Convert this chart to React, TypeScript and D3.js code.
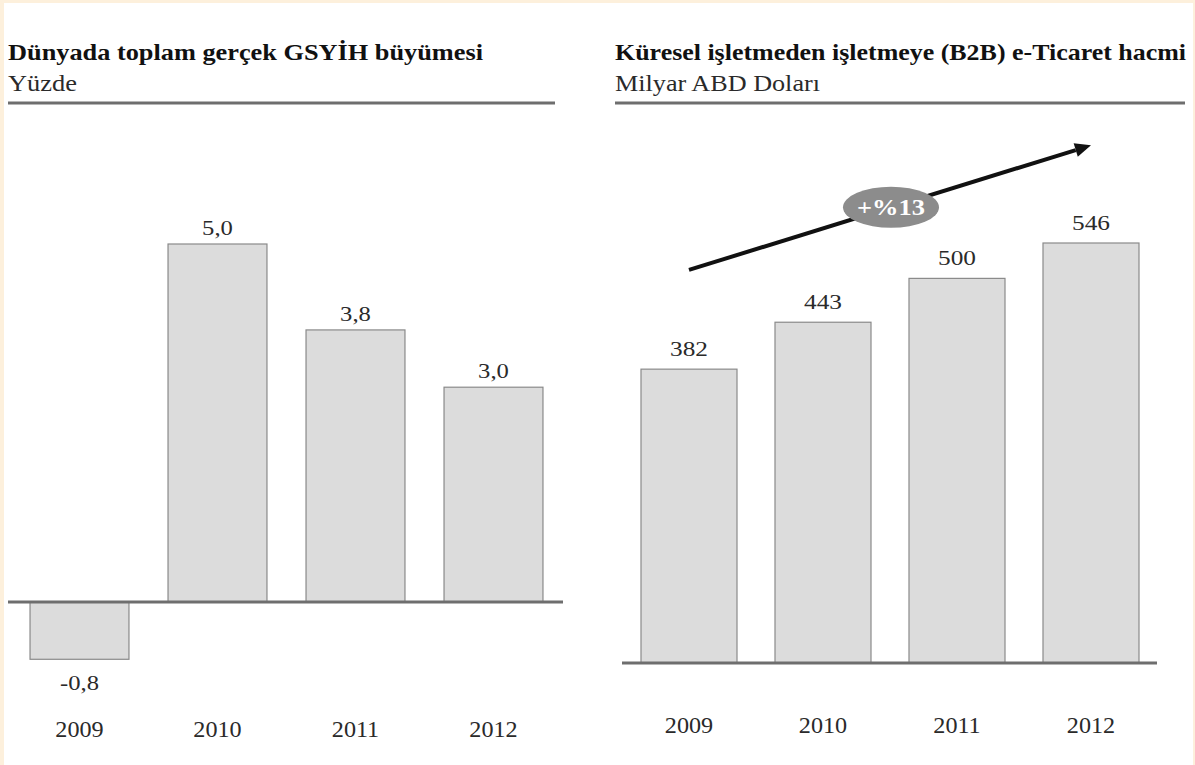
import React from "react";
import * as d3 from "d3";

const years = ["2009", "2010", "2011", "2012"];
const gdpGrowth = [-0.8, 5.0, 3.8, 3.0];
const gdpLabels = ["-0,8", "5,0", "3,8", "3,0"];
const b2bVolume = [382, 443, 500, 546];
const b2bLabels = ["382", "443", "500", "546"];
const cagrLabel = "+%13";
const leftTitle = "Dünyada toplam gerçek GSYİH büyümesi";
const leftSubtitle = "Yüzde";
const rightTitle = "Küresel işletmeden işletmeye (B2B) e-Ticaret hacmi";
const rightSubtitle = "Milyar ABD Doları";

const W = 1195;
const H = 765;
const FONT = "'Liberation Serif', 'Times New Roman', serif";
const BAR_FILL = "#dcdcdc";
const BAR_STROKE = "#8a8a8a";
const AXIS = "#6e6e6e";
const TEXT = "#2a2a2a";

function SText(props: { x: number; y: number; size: number; sx: number; children: React.ReactNode; fill?: string; weight?: string }) {
  return (
    <text
      transform={`translate(${props.x},${props.y}) scale(${props.sx},1)`}
      textAnchor="middle"
      fontSize={props.size}
      fontWeight={props.weight || "normal"}
      fill={props.fill || TEXT}
    >
      {props.children}
    </text>
  );
}

export default function App() {
  const xL = d3.scaleBand<string>().domain(years).range([10.5, 562.5]).paddingInner(0.283).paddingOuter(0.1415);
  const yL = d3.scaleLinear().domain([0, 5]).range([602, 244]);
  const xR = d3.scaleBand<string>().domain(years).range([622, 1158]).paddingInner(0.2836).paddingOuter(0.1418);
  const yR = d3.scaleLinear().domain([0, 546]).range([663, 243]);

  const ax0 = xR(years[0])! + xR.bandwidth() / 2;
  const ax1 = xR(years[3])! + xR.bandwidth() / 2;
  const ay0 = yR(511);
  const ay1 = yR(673);
  const ang = Math.atan2(ay1 - ay0, ax1 - ax0);
  const headLen = 16;
  const headW = 7;
  const baseX = ax1 - headLen * Math.cos(ang);
  const baseY = ay1 - headLen * Math.sin(ang);
  const px = -Math.sin(ang) * headW;
  const py = Math.cos(ang) * headW;
  const head = `M${ax1},${ay1} L${baseX + px},${baseY + py} L${baseX - px},${baseY - py} Z`;
  const ex = 891;
  const ey = ay0 + (ex - ax0) * Math.tan(ang);

  return (
    <svg width={W} height={H} style={{ position: "absolute", left: 0, top: 0 }} fontFamily={FONT}>
      <rect x={0} y={0} width={W} height={H} fill="#fdf0dc" />
      <rect x={4} y={3} width={W - 6} height={H - 3} fill="#ffffff" />

      {/* Left chart */}
      <text x={8} y={60} fontSize={23.5} fontWeight="bold" fill="#111" textLength={475} lengthAdjust="spacingAndGlyphs">{leftTitle}</text>
      <text x={8} y={91} fontSize={23} fill={TEXT} textLength={69} lengthAdjust="spacingAndGlyphs">{leftSubtitle}</text>
      <line x1={8} x2={555} y1={103} y2={103} stroke={AXIS} strokeWidth={3} />
      {years.map((yr, i) => {
        const v = gdpGrowth[i];
        const y0 = yL(Math.max(0, v));
        const y1 = yL(Math.min(0, v));
        const cx = xL(yr)! + xL.bandwidth() / 2;
        return (
          <g key={yr}>
            <rect x={xL(yr)} y={y0} width={xL.bandwidth()} height={y1 - y0} fill={BAR_FILL} stroke={BAR_STROKE} strokeWidth={1.2} />
            <SText x={cx} y={v >= 0 ? y0 - 9 : y1 + 31} size={22} sx={1.12}>{gdpLabels[i]}</SText>
            <SText x={cx} y={737} size={23} sx={1.05}>{yr}</SText>
          </g>
        );
      })}
      <line x1={8} x2={563} y1={yL(0)} y2={yL(0)} stroke={AXIS} strokeWidth={3} />

      {/* Right chart */}
      <text x={615} y={60} fontSize={23.5} fontWeight="bold" fill="#111" textLength={571} lengthAdjust="spacingAndGlyphs">{rightTitle}</text>
      <text x={615} y={91} fontSize={23} fill={TEXT} textLength={205} lengthAdjust="spacingAndGlyphs">{rightSubtitle}</text>
      <line x1={615} x2={1185} y1={103} y2={103} stroke={AXIS} strokeWidth={3} />
      {years.map((yr, i) => {
        const v = b2bVolume[i];
        const cx = xR(yr)! + xR.bandwidth() / 2;
        return (
          <g key={yr}>
            <rect x={xR(yr)} y={yR(v)} width={xR.bandwidth()} height={yR(0) - yR(v)} fill={BAR_FILL} stroke={BAR_STROKE} strokeWidth={1.2} />
            <SText x={cx} y={yR(v) - 13} size={22} sx={1.15}>{b2bLabels[i]}</SText>
            <SText x={cx} y={733} size={23} sx={1.05}>{yr}</SText>
          </g>
        );
      })}
      <line x1={622} x2={1157} y1={yR(0)} y2={yR(0)} stroke={AXIS} strokeWidth={3} />

      {/* CAGR arrow */}
      <line x1={ax0} y1={ay0} x2={baseX} y2={baseY} stroke="#111" strokeWidth={4} />
      <path d={head} fill="#111" />
      <ellipse cx={ex} cy={ey} rx={48} ry={20.5} fill="#8c8c8c" />
      <text x={ex} y={ey + 8} textAnchor="middle" fontSize={23} fontWeight="bold" fill="#ffffff" textLength={68} lengthAdjust="spacingAndGlyphs">{cagrLabel}</text>
    </svg>
  );
}
